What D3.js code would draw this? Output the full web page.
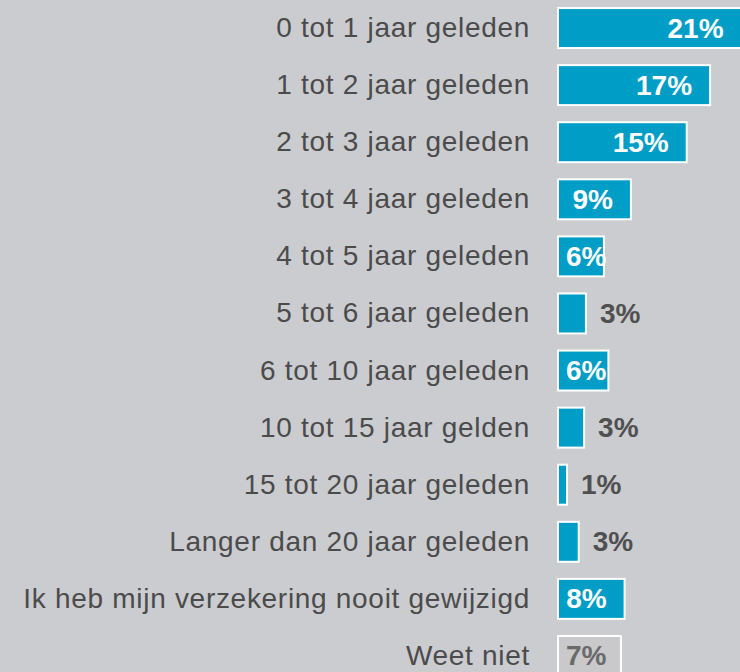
<!DOCTYPE html>
<html>
<head>
<meta charset="utf-8">
<script src="https://cdn.jsdelivr.net/npm/d3@7"></script>
<style>
  body { margin: 0; background: #cbcccf; }
  text { font-family: Arial, "Liberation Sans", sans-serif; }
</style>
</head>
<body>
<script>
// categories, top to bottom
let categories = [
  "0 tot 1 jaar geleden",
  "1 tot 2 jaar geleden",
  "2 tot 3 jaar geleden",
  "3 tot 4 jaar geleden",
  "4 tot 5 jaar geleden",
  "5 tot 6 jaar geleden",
  "6 tot 10 jaar geleden",
  "10 tot 15 jaar gelden",
  "15 tot 20 jaar geleden",
  "Langer dan 20 jaar geleden",
  "Ik heb mijn verzekering nooit gewijzigd",
  "Weet niet"
];
// bar lengths (percent)
let values = [20.4, 16.9, 14.3, 8.1, 5.1, 3.1, 5.6, 2.9, 1.0, 2.3, 7.4, 7.0];
// printed labels
let labels = ["21%", "17%", "15%", "9%", "6%", "3%", "6%", "3%", "1%", "3%", "8%", "7%"];

let width = 740, height = 672;

let data = categories.map((c, i) => ({cat: c, value: values[i], label: labels[i], last: i === categories.length - 1}));

let svg = d3.select("body").append("svg")
  .attr("width", width)
  .attr("height", height);

svg.append("rect")
  .attr("width", width)
  .attr("height", height)
  .attr("fill", "#cbcccf");

let x = d3.scaleLinear().domain([0, 20]).range([558, 738]);
let y = d3.scaleBand().domain(categories).range([-0.5, 684.5])
  .paddingInner(0.3).paddingOuter(0.15);

// category labels
svg.selectAll(".cat")
  .data(data)
  .enter()
  .append("text")
  .attr("class", "cat")
  .attr("x", 530)
  .attr("y", d => y(d.cat) + y.bandwidth() / 2)
  .attr("dy", "0.32em")
  .attr("text-anchor", "end")
  .style("font-size", "28px")
  .style("letter-spacing", "0.7px")
  .attr("fill", "#4b4b4b")
  .text(d => d.cat);

// bars
svg.selectAll(".bar")
  .data(data)
  .enter()
  .append("rect")
  .attr("class", "bar")
  .attr("x", x(0))
  .attr("y", d => y(d.cat))
  .attr("width", d => x(d.value) - x(0))
  .attr("height", y.bandwidth())
  .attr("fill", d => d.last ? "#c9c9cb" : "#009dc6")
  .attr("stroke", "white")
  .attr("stroke-width", 2);

// value labels
svg.selectAll(".val")
  .data(data)
  .enter()
  .append("text")
  .attr("class", "val")
  .attr("y", d => y(d.cat) + y.bandwidth() / 2)
  .attr("dy", "0.34em")
  .style("font-size", "28px")
  .style("font-weight", "bold")
  .attr("fill", d => d.last ? "#6a6a6a" : (d.value >= 4 ? "white" : "#505050"))
  .text(d => d.label)
  .each(function(d) {
    let w = this.getComputedTextLength();
    let px;
    if (d.value >= 4) {
      px = Math.max(x(d.value) - 18 - w, x(0) + 8);
    } else {
      px = x(d.value) + 14;
    }
    d3.select(this).attr("x", px);
  });
</script>
</body>
</html>
